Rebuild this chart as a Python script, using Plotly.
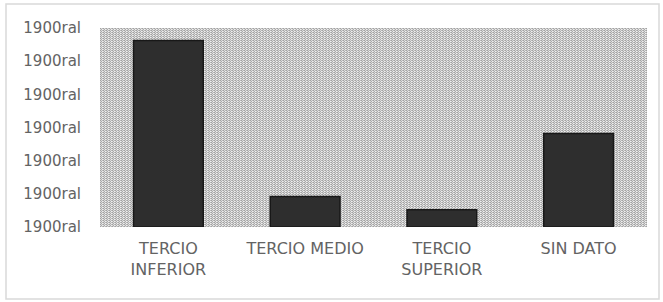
import base64
import plotly.graph_objects as go

categories = ["TERCIO<br>INFERIOR", "TERCIO MEDIO", "TERCIO<br>SUPERIOR", "SIN DATO"]
values = [5.62, 0.92, 0.52, 2.82]
tick_vals = [0, 1, 2, 3, 4, 5, 6]
tick_text = ["1900ral"] * 7

W, H = 663, 302
L, R, T, B = 100, 16, 28, 75
pw, ph = W - L - R, H - T - B

svg = f'''<svg xmlns="http://www.w3.org/2000/svg" width="{pw}" height="{ph}">
<defs><pattern id="p" width="3" height="2" patternUnits="userSpaceOnUse">
<rect width="3" height="2" fill="#d8d8d8"/>
<rect x="0" y="0" width="1" height="1" fill="#a2a2a2"/>
<rect x="1" y="1" width="1" height="1" fill="#aaaaaa"/>
<rect x="2" y="0" width="1" height="1" fill="#b8b8b8"/>
<rect x="2" y="1" width="1" height="1" fill="#f0f0f0"/>
</pattern></defs>
<rect width="{pw}" height="{ph}" fill="url(#p)"/></svg>'''
img = "data:image/svg+xml;base64," + base64.b64encode(svg.encode()).decode()

fig = go.Figure()
fig.add_trace(go.Bar(
    x=categories, y=values, width=0.51,
    marker=dict(color="#2e2e2e", line=dict(color="#181818", width=1.5)),
))

fig.update_layout(
    width=W, height=H,
    margin=dict(l=L, r=R, t=T, b=B),
    paper_bgcolor="white",
    plot_bgcolor="rgba(0,0,0,0)",
    showlegend=False,
    images=[dict(source=img, xref="paper", yref="paper", x=0, y=1,
                 sizex=1, sizey=1, xanchor="left", yanchor="top",
                 sizing="stretch", layer="below")],
    shapes=[dict(type="rect", xref="paper", yref="paper",
                 x0=(6 - L) / pw, x1=(659 - L) / pw,
                 y0=(T + ph - 299) / ph, y1=(T + ph - 4) / ph,
                 line=dict(color="#d9d9d9", width=1.5), layer="below")],
    xaxis=dict(showgrid=False, showline=False, ticks="",
               ticklabelstandoff=10,
               tickfont=dict(family="DejaVu Sans", size=16, color="#636363")),
    yaxis=dict(range=[0, 6], tickvals=tick_vals, ticktext=tick_text,
               showgrid=False, zeroline=False, showline=False, ticks="",
               ticklabelstandoff=18,
               tickfont=dict(family="DejaVu Sans", size=15, color="#636363")),
)

fig.write_html("out.html", config={"displayModeBar": False},
               post_script="document.body.style.margin='0';document.documentElement.style.overflow='hidden';")
